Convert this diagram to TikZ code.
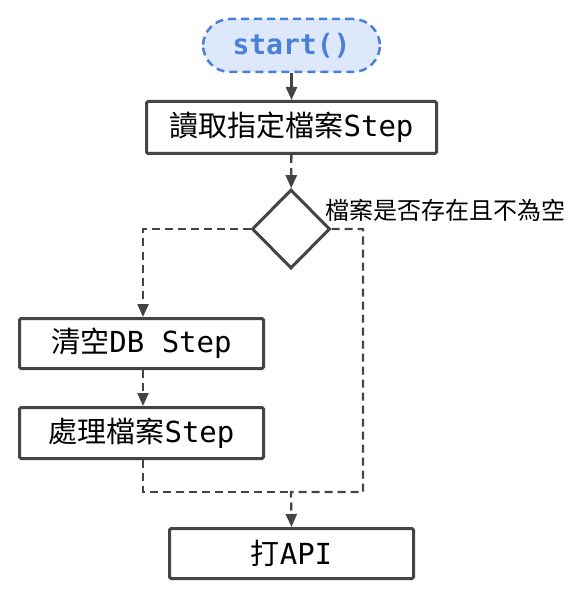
\documentclass[tikz,border=0pt]{standalone}
\usepackage{fontspec}
\setmainfont{DejaVu Sans Mono}
\newfontfamily\cjk{Noto Sans CJK TC}
\usetikzlibrary{arrows.meta,shapes.geometric}
\definecolor{ln}{HTML}{444444}
\definecolor{bl}{HTML}{4A80DA}
\definecolor{blfill}{HTML}{DDE8FB}
\tikzset{
  box/.style={draw=ln, line width=3pt, fill=white, rounded corners=1.5pt, inner sep=0pt,
    font=\fontsize{29}{34}\selectfont, text=black},
  conn/.style={draw=ln, line width=2.3pt, -{Triangle[width=11pt,length=13pt]}},
  dsh/.style={dash pattern=on 8pt off 5pt},
}
\begin{document}
\begin{tikzpicture}[x=1pt,y=-1pt]
\useasboundingbox (0,0) rectangle (582,601);
\node[draw=bl, fill=blfill, line width=2.5pt, dash pattern=on 8pt off 5pt, rounded corners=27pt,
  minimum width=177pt, minimum height=53pt, inner sep=0pt, text=bl,
  font=\fontsize{28}{32}\selectfont\bfseries] (st) at (291.5,45.5) {start()};
\node[box, minimum width=290pt, minimum height=52pt] (b1) at (291.5,127.5) {{\cjk 讀取指定檔案}Step};
\node[draw=ln, line width=3pt, fill=white, diamond, minimum width=78pt, minimum height=79pt, inner sep=0pt] (d) at (291,229) {};
\node[anchor=west, inner sep=0pt, font=\fontsize{24}{28}\selectfont\cjk] (lab) at (325,210) {檔案是否存在且不為空};
\node[box, minimum width=244pt, minimum height=50pt] (b2) at (141.5,343.5) {{\cjk 清空}DB Step};
\node[box, minimum width=244pt, minimum height=51pt] (b3) at (141.5,433) {{\cjk 處理檔案}Step};
\node[box, minimum width=244pt, minimum height=50pt] (b4) at (291.5,553.5) {{\cjk 打}API};
\coordinate (L) at (143,229);
\coordinate (R) at (363,229);
\coordinate (RB) at (363,492);
\coordinate (J) at (291,492);
\coordinate (B3B) at (143,492);
\draw[conn] (st) -- (b1);
\draw[conn,dsh] (b1) -- (d);
\draw[conn,dsh] (d.west) -- (L) -- (L|-b2.north);
\draw[conn,dsh] (d.east) -- (R) -- (RB) -- (J) -- (b4.north);
\draw[conn,dsh] (143,0|-b2.south) -- (143,0|-b3.north);
\draw[draw=ln, line width=2.3pt, dsh] (143,0|-b3.south) -- (B3B) -- (J);
\end{tikzpicture}
\end{document}
